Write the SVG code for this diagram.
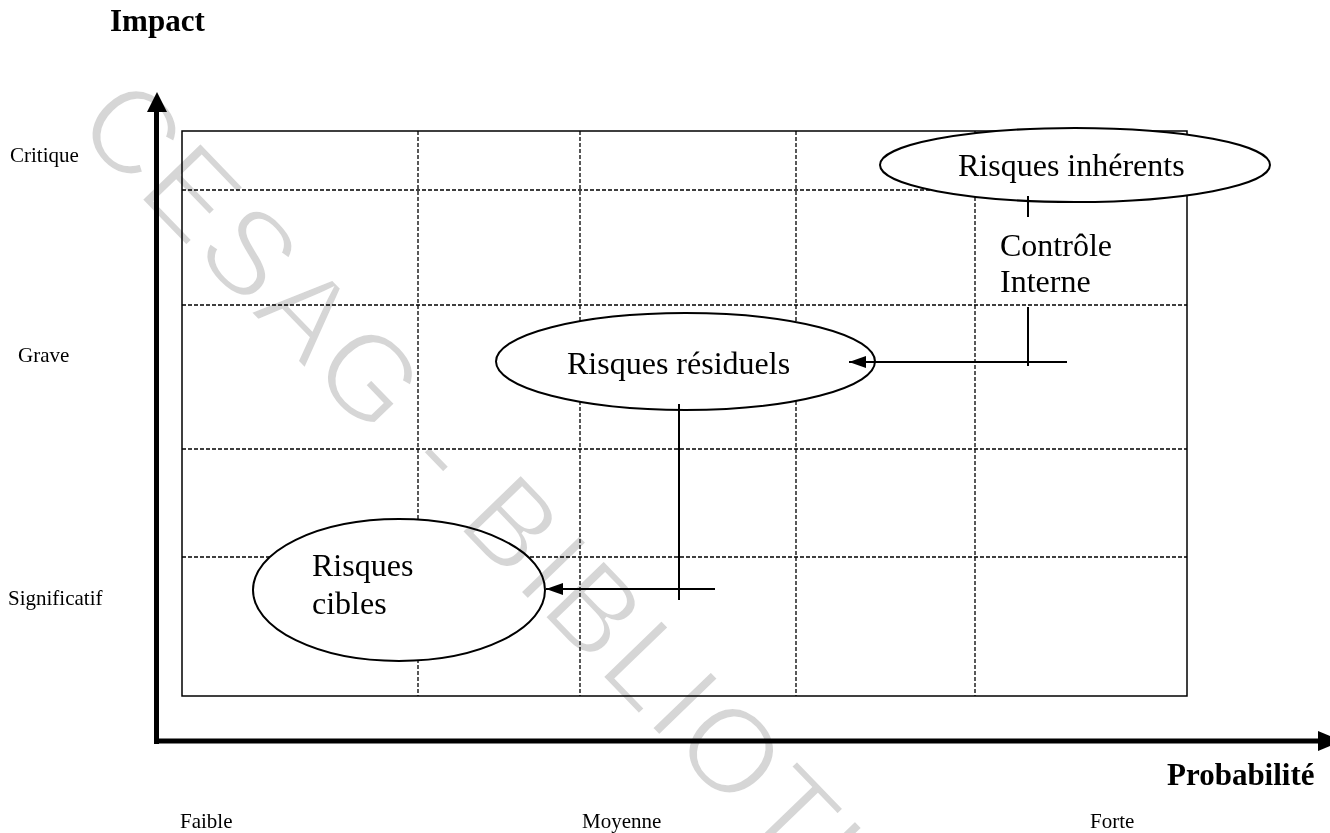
<svg xmlns="http://www.w3.org/2000/svg" width="1330" height="833" viewBox="0 0 1330 833">
<style>
  .lbl { font-family: "Liberation Serif", "Times New Roman", serif; fill: #000; }
  .small { font-size: 21px; }
  .big { font-size: 32px; }
  .axt { font-size: 31px; font-weight: bold; }
  .grid { stroke: #000; stroke-width: 1.3; stroke-dasharray: 4 2; fill: none; }
  .frame { stroke: #000; stroke-width: 1.5; fill: none; }
  .node { fill: #fff; stroke: #000; stroke-width: 2; }
  .conn { stroke: #000; stroke-width: 2; fill: none; }
  .axis { stroke: #000; stroke-width: 5; fill: none; }
  .wm { font-family: "Liberation Sans", Arial, sans-serif; font-size: 120px; letter-spacing: 3px; fill: #d6d6d6; stroke: #fff; stroke-width: 3; }
</style>
<defs>
  <marker id="arr" viewBox="0 0 17 12" refX="17" refY="6" markerWidth="17" markerHeight="12" markerUnits="userSpaceOnUse" orient="auto">
    <path d="M0,0 L17,6 L0,12 Z" fill="#000"/>
  </marker>
</defs>
<rect width="1330" height="833" fill="#fff"/>

<g id="grid">
  <line class="grid" x1="182" y1="190" x2="1187" y2="190"/>
  <line class="grid" x1="182" y1="305" x2="1187" y2="305"/>
  <line class="grid" x1="182" y1="449" x2="1187" y2="449"/>
  <line class="grid" x1="182" y1="557" x2="1187" y2="557"/>
  <line class="grid" x1="418" y1="131" x2="418" y2="696"/>
  <line class="grid" x1="580" y1="131" x2="580" y2="696"/>
  <line class="grid" x1="796" y1="131" x2="796" y2="696"/>
  <line class="grid" x1="975" y1="131" x2="975" y2="696"/>
  <rect class="frame" x="182" y="131" width="1005" height="565"/>
</g>

<g id="axes">
  <line class="axis" x1="156.5" y1="744" x2="156.5" y2="110"/>
  <path d="M147,112 L157,92 L167,112 Z" fill="#000"/>
  <line class="axis" x1="154" y1="741" x2="1320" y2="741"/>
  <path d="M1318,731 L1342,741 L1318,751 Z" fill="#000"/>
  <text class="lbl axt" x="110" y="31" font-size="32">Impact</text>
  <text class="lbl axt" x="1167" y="785">Probabilité</text>
  <text class="lbl small" x="10" y="162">Critique</text>
  <text class="lbl small" x="18" y="362">Grave</text>
  <text class="lbl small" x="8" y="605">Significatif</text>
  <text class="lbl small" x="180" y="828">Faible</text>
  <text class="lbl small" x="582" y="828">Moyenne</text>
  <text class="lbl small" x="1090" y="828">Forte</text>
</g>

<g id="node-inherents">
  <ellipse class="node" cx="1075" cy="165" rx="195" ry="37"/>
  <text class="lbl big" x="958" y="176">Risques inhérents</text>
</g>

<g id="node-controle">
  <text class="lbl big" x="1000" y="256">Contrôle</text>
  <text class="lbl big" x="1000" y="292">Interne</text>
</g>

<g id="node-residuels">
  <ellipse class="node" cx="685.5" cy="361.5" rx="189.5" ry="48.5"/>
  <text class="lbl big" x="567" y="374">Risques résiduels</text>
</g>

<g id="node-cibles">
  <ellipse class="node" cx="399" cy="590" rx="146" ry="71"/>
  <text class="lbl big" x="312" y="576">Risques</text>
  <text class="lbl big" x="312" y="614">cibles</text>
</g>

<g id="connectors">
  <line class="conn" x1="1028" y1="196" x2="1028" y2="217"/>
  <line class="conn" x1="1028" y1="307" x2="1028" y2="366"/>
  <line class="conn" x1="1067" y1="362" x2="849" y2="362" marker-end="url(#arr)"/>
  <line class="conn" x1="679" y1="404" x2="679" y2="600"/>
  <line class="conn" x1="715" y1="589" x2="546" y2="589" marker-end="url(#arr)"/>
</g>

<g id="watermark" style="mix-blend-mode: multiply">
  <text class="wm" transform="translate(72,128) rotate(46)">CESAG - BIBLIOTHEQUE</text>
</g>
</svg>
